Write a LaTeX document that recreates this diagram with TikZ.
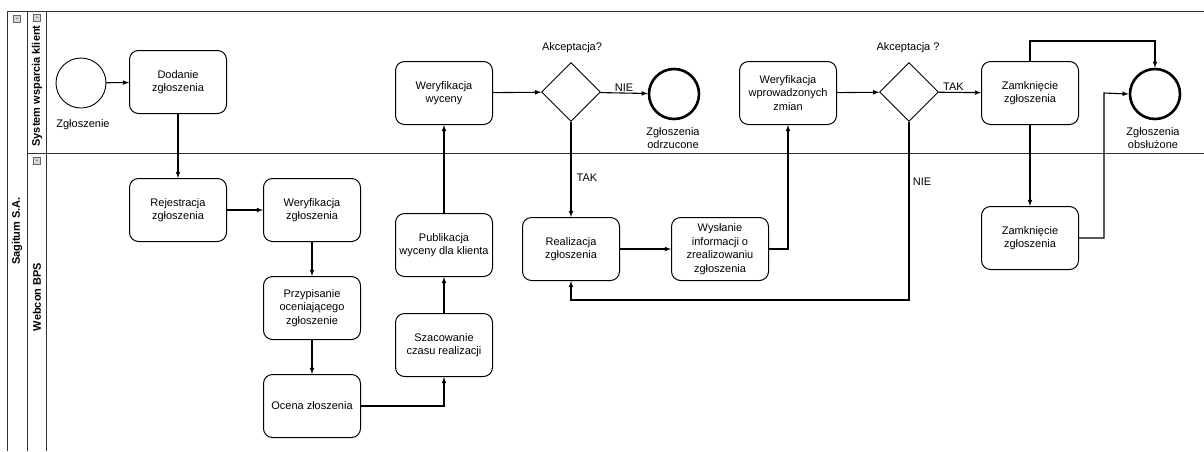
\documentclass[tikz,border=0pt]{standalone}
\usepackage{fontspec}
\setmainfont{Liberation Sans}
\usetikzlibrary{positioning, calc, shapes.geometric}

\begin{document}
\begin{tikzpicture}[x=1pt, y=-1pt, line width=1.1pt,
    every node/.style={anchor=center, align=center, font=\fontsize{11}{13.5}\selectfont},
    zadanie/.style={draw, rounded corners=9pt, minimum width=97pt, minimum height=63pt, inner sep=1pt, line width=1pt},
    bramka/.style={draw, diamond, minimum width=59pt, minimum height=59pt, inner sep=0pt, line width=0.9pt},
    start/.style={draw, circle, minimum size=50pt, inner sep=0pt, line width=0.9pt},
    koniec/.style={draw, circle, minimum size=50pt, inner sep=0pt, line width=2.6pt},
    opis/.style={inner sep=1pt},
    tor/.style={draw=black!80, line width=1pt},
    ikona/.style={draw=black!60, fill=black!15, minimum size=7pt, inner sep=0pt, line width=0.6pt, font=\fontsize{7}{7}\selectfont}]
  \useasboundingbox (0,0) rectangle (1204,451);

  % baseny i tory
  \draw[tor] (1204,11) -- (7,11) -- (7,451);
  \draw[tor] (27,11) -- (27,451);
  \draw[tor] (46,11) -- (46,451);
  \draw[tor] (27,153) -- (1204,153);
  \node[ikona] (ik1) at (17,19) {-};
  \node[ikona] (ik2) at (37,18) {-};
  \node[ikona] (ik3) at (37,161) {-};
  \node[rotate=90, font=\bfseries\fontsize{11}{13}\selectfont] (pool) at (17,231) {Sagitum S.A.};
  \node[rotate=90, font=\bfseries\fontsize{11}{13}\selectfont] (lane1) at (37,86) {System wsparcia klient};
  \node[rotate=90, font=\bfseries\fontsize{11}{13}\selectfont] (lane2) at (37,297) {Webcon BPS};

  % gorny tor
  \node[start] (S) at (81,83) {};
  \node[opis] (Slab) at (83,125) {Zgłoszenie};
  \node[zadanie] (A) at (178,82) {Dodanie\\zgłoszenia};
  \node[zadanie] (H) at (444,93) {Weryfikacja\\wyceny};
  \node[bramka] (G1) at (571,92) {};
  \node[opis] (G1lab) at (572,48) {Akceptacja?};
  \node[koniec] (E1) at (674,94) {};
  \node[opis] (E1lab) at (673,138) {Zgłoszenia\\odrzucone};
  \node[zadanie] (K) at (788,93) {Weryfikacja\\wprowadzonych\\zmian};
  \node[bramka] (G2) at (909,92) {};
  \node[opis] (G2lab) at (908,48) {Akceptacja ?};
  \node[zadanie] (L) at (1030,93) {Zamknięcie\\zgłoszenia};
  \node[koniec] (E2) at (1155,94) {};
  \node[opis] (E2lab) at (1153,138) {Zgłoszenia\\obsłużone};

  % dolny tor
  \node[zadanie] (B) at (178,210) {Rejestracja\\zgłoszenia};
  \node[zadanie] (C) at (312,210) {Weryfikacja\\zgłoszenia};
  \node[zadanie] (D) at (312,308) {Przypisanie\\oceniającego\\zgłoszenie};
  \node[zadanie] (E) at (312,406) {Ocena złoszenia};
  \node[zadanie] (F) at (444,345) {Szacowanie\\czasu realizacji};
  \node[zadanie] (P) at (444,245) {Publikacja\\wyceny dla klienta};
  \node[zadanie] (I) at (571,249) {Realizacja\\zgłoszenia};
  \node[zadanie] (J) at (720,249) {Wysłanie\\informacji o\\zrealizowaniu\\zgłoszenia};
  \node[zadanie] (M) at (1030,238) {Zamknięcie\\zgłoszenia};

  \coordinate (petla) at (909,300);
  \coordinate (gora) at (1030,41);
  \coordinate (obejscie) at (1104,93);

  \path[draw, -latex] (S) -- (A);
  \path[draw, -latex] (A) -- (B);
  \path[draw, -latex] (B) -- (C);
  \path[draw, -latex] (C) -- (D);
  \path[draw, -latex] (D) -- (E);
  \path[draw, -latex] (E.east) -| (F.south);
  \path[draw, -latex] (F) -- (P);
  \path[draw, -latex] (P) -- (H);
  \path[draw, -latex] (H) -- (G1);
  \path[draw, -latex] (G1) -- node[above, opis] {NIE} (E1);
  \path[draw, -latex] (G1) -- (I);
  \node[opis] (tak1) at (587,178) {TAK};
  \path[draw, -latex] (I) -- (J);
  \path[draw, -latex] (J.east) -| (K.south);
  \path[draw, -latex] (K) -- (G2);
  \path[draw, -latex] (G2) -- node[above, opis, pos=0.35] {TAK} (L);
  \path[draw, -latex] (G2.south) -- (petla) -| (I.south);
  \node[opis] (nie2) at (922,182) {NIE};
  \path[draw, -latex] (L.north) -- (gora) -| (E2.north);
  \path[draw, -latex] (L) -- (M);
  \path[draw, -latex] (M.east) -| (obejscie) -- (E2.west);
\end{tikzpicture}
\end{document}
